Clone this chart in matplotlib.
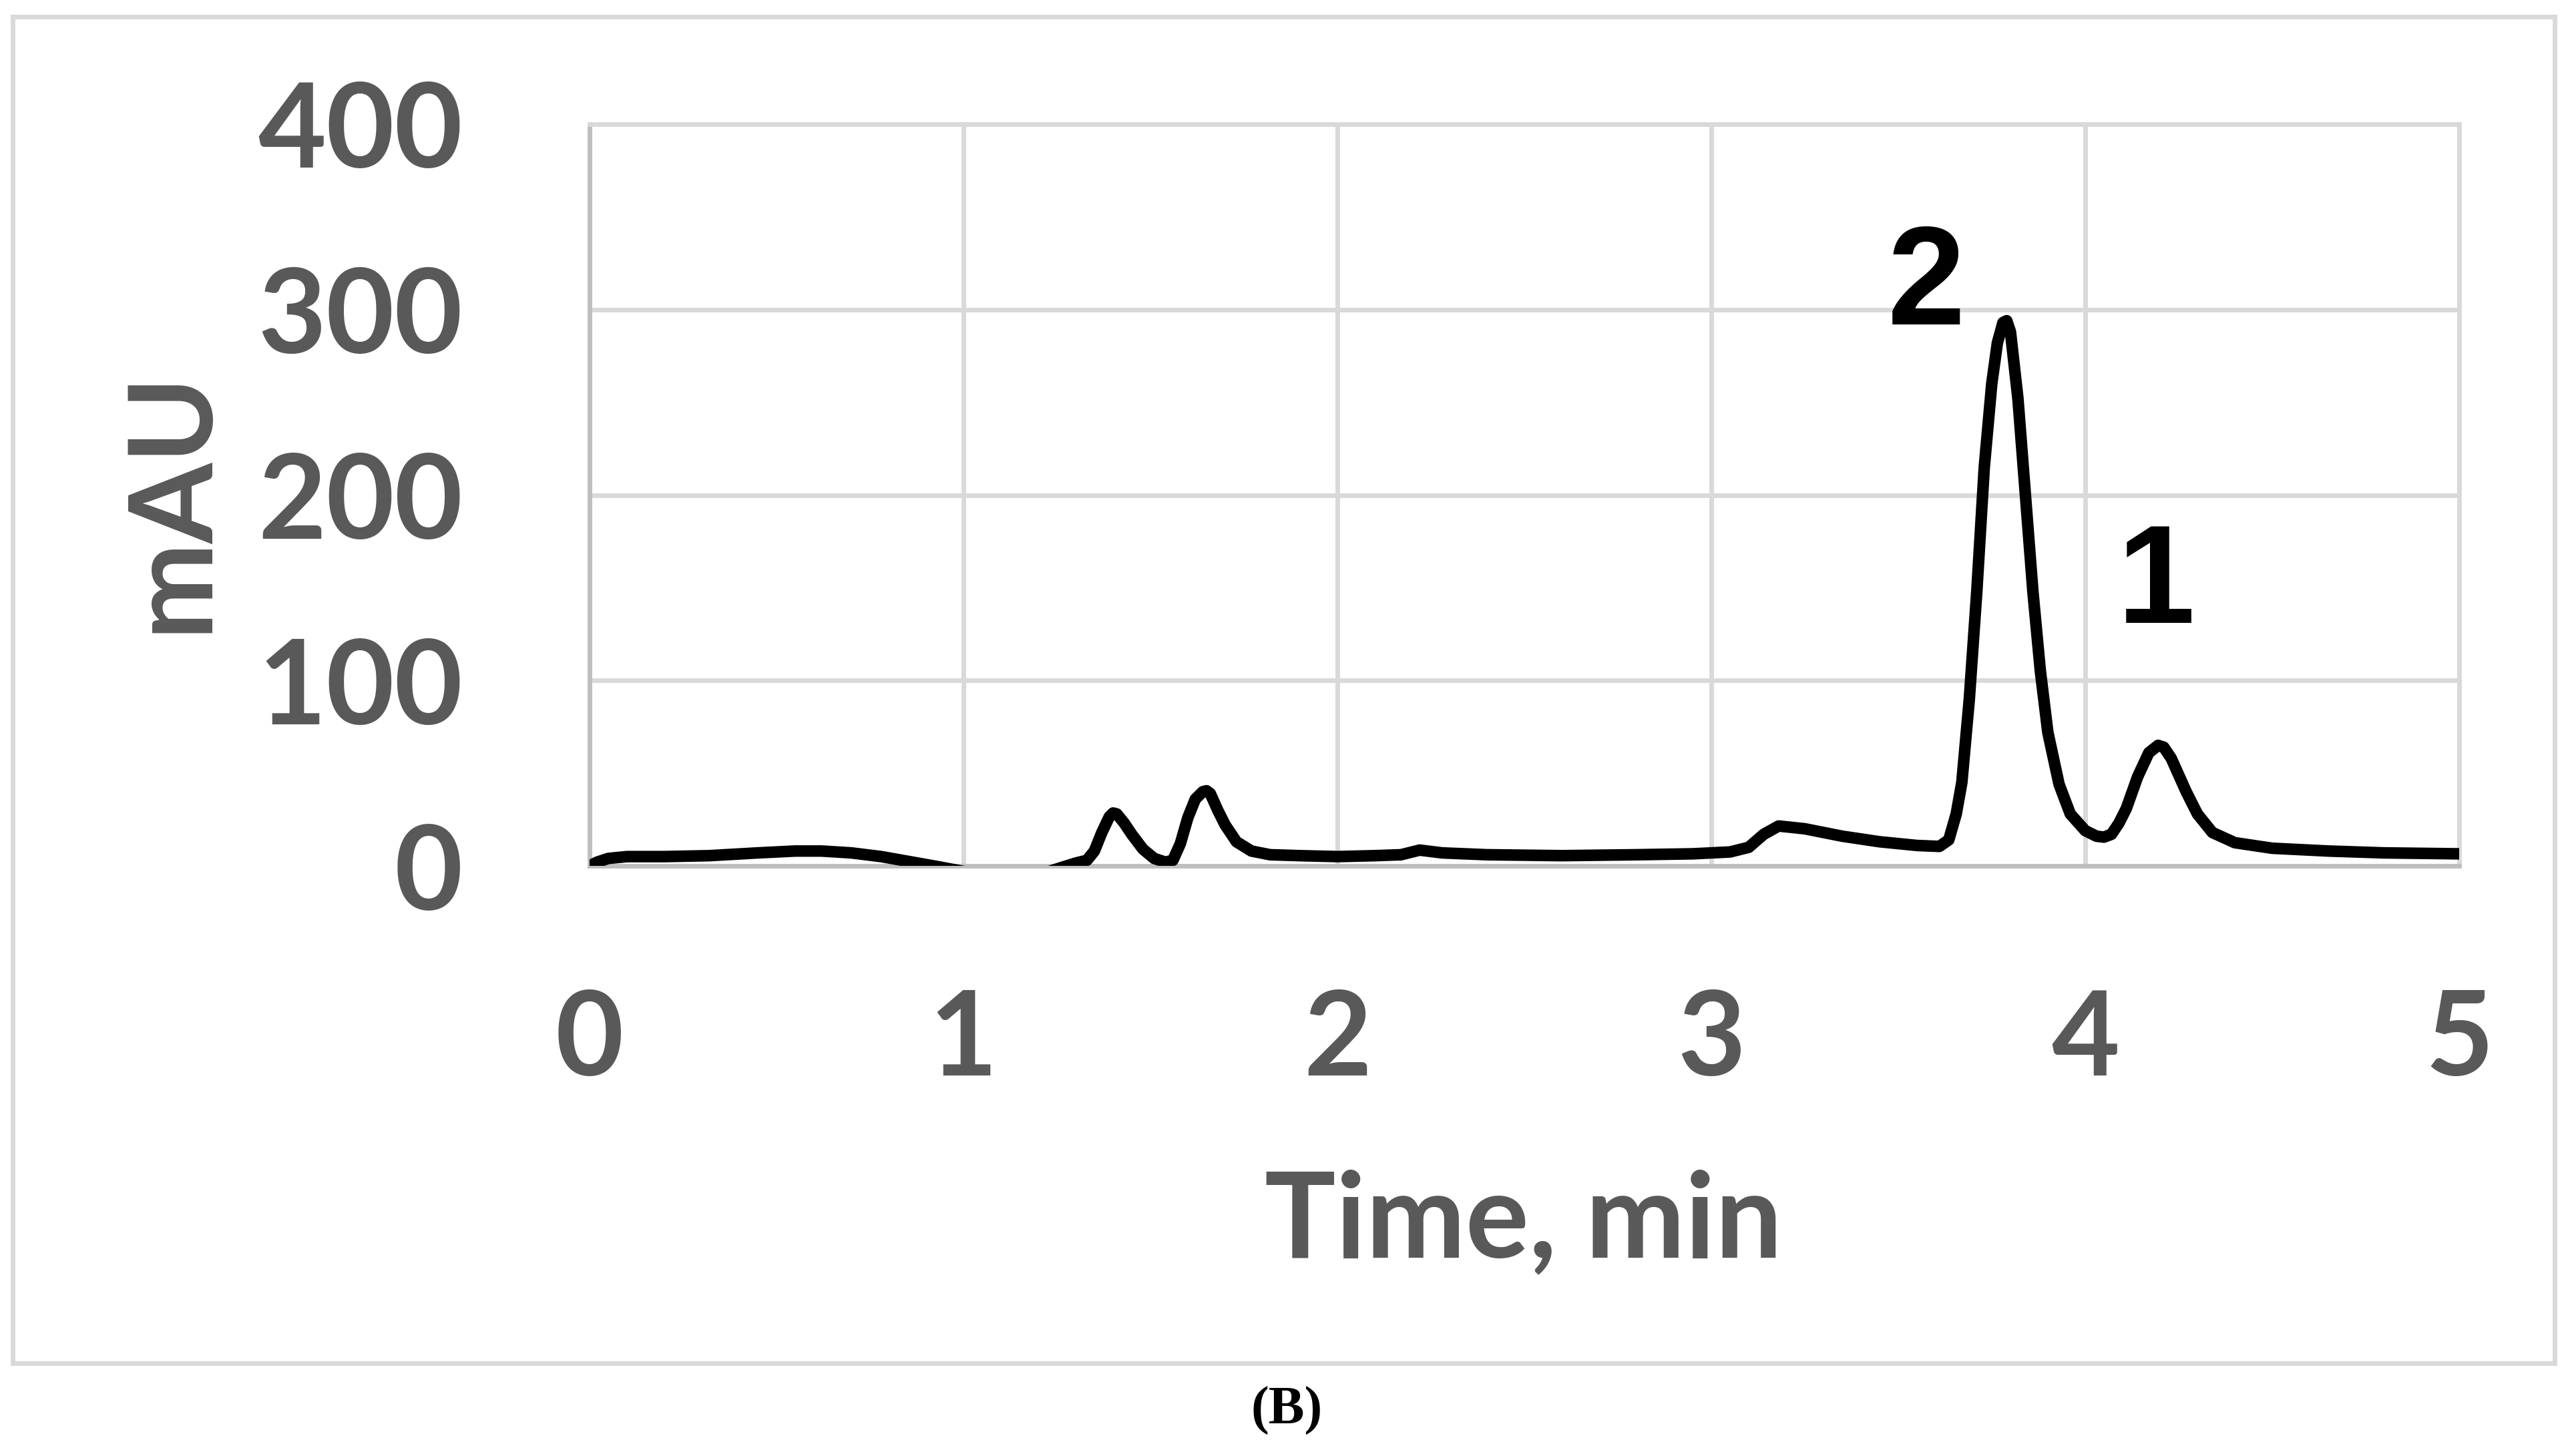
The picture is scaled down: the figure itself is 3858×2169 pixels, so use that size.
import matplotlib
matplotlib.use("Agg")
import matplotlib.pyplot as plt
from matplotlib.patches import Rectangle

# chromatogram trace (time in min, signal in mAU)
time_min = [
    0.00, 0.02, 0.05, 0.10, 0.20, 0.32, 0.45, 0.55, 0.62, 0.70, 0.78, 0.85,
    0.92, 1.00, 1.10, 1.20, 1.26, 1.30, 1.33, 1.35, 1.37, 1.39, 1.40, 1.41,
    1.43, 1.45, 1.48, 1.51, 1.54, 1.56, 1.58, 1.60, 1.62, 1.64, 1.65, 1.66,
    1.68, 1.70, 1.73, 1.77, 1.82, 1.90, 2.00, 2.10, 2.17, 2.22, 2.28, 2.40,
    2.60, 2.80, 2.95, 3.05, 3.10, 3.14, 3.18, 3.25, 3.35, 3.45, 3.55, 3.61,
    3.635, 3.655, 3.67, 3.69, 3.71, 3.73, 3.75, 3.765, 3.78, 3.79, 3.80,
    3.82, 3.84, 3.86, 3.88, 3.90, 3.93, 3.96, 4.00, 4.03, 4.05, 4.07, 4.09,
    4.11, 4.14, 4.17, 4.195, 4.21, 4.23, 4.25, 4.27, 4.30, 4.34, 4.40, 4.50,
    4.65, 4.80, 5.00,
]
signal_mau = [
    0, 2, 4, 5, 5, 5.5, 7, 8, 8, 7, 5, 2.5,
    0, -3, -6, -5, -1, 1.5, 3, 8, 18, 26.5, 28.5, 28,
    23, 17, 9, 4, 2, 3, 12, 26, 36, 40, 40.5, 39,
    30, 22, 13, 8, 6, 5.5, 5, 5.5, 6, 8.5, 7, 6,
    5.5, 6, 6.5, 7.5, 10, 17, 21.5, 20, 16, 13, 11, 10.5,
    14, 28, 45, 90, 148, 215, 260, 282, 293, 294, 288,
    252, 200, 148, 105, 72, 44, 28, 19, 16, 15.5, 17, 23,
    31, 48, 61, 65, 64, 58, 49, 40, 28, 18, 12.5, 9.5,
    8, 7, 6.5,
]

x_ticks = [0, 1, 2, 3, 4, 5]
y_ticks = [0, 100, 200, 300, 400]

# peak labels: text, time, mAU at the baseline of the digit
peak_labels = ["2", "1"]
peak_x = [3.575, 4.19]
peak_y = [292, 131]

W, H, DPI = 3858, 2169, 100
grey_txt = "#595959"
tick_font = "Lato"

fig = plt.figure(figsize=(W / DPI, H / DPI), dpi=DPI)

# light frame around the chart area
fig.patches.append(Rectangle((19 / W, 1 - 2042 / H), (3826 - 19) / W,
                             (2042 - 25) / H, transform=fig.transFigure,
                             fill=False, edgecolor="#d9d9d9", linewidth=5))

ax = fig.add_axes([883 / W, 1 - 1297 / H, 2800 / W, 1111 / H])
ax.plot(time_min, signal_mau, color="black", linewidth=12.5,
        solid_joinstyle="round", solid_capstyle="butt", zorder=3)

ax.set_xlim(0, 5)
ax.set_ylim(0, 400)
ax.set_xticks(x_ticks)
ax.set_yticks(y_ticks)
ax.grid(True, color="#d9d9d9", linewidth=5)
ax.set_axisbelow(True)

for side in ["top", "right"]:
    ax.spines[side].set_color("#d9d9d9")
    ax.spines[side].set_linewidth(5)
for side in ["left", "bottom"]:
    ax.spines[side].set_color("#bfbfbf")
    ax.spines[side].set_linewidth(5)

ax.tick_params(axis="both", length=0, labelsize=127, labelcolor=grey_txt)
ax.tick_params(axis="y", pad=137)
ax.tick_params(axis="x", pad=132)
for lab in ax.get_xticklabels() + ax.get_yticklabels():
    lab.set_fontfamily(tick_font)
    lab.set_fontweight("bold")

fig.text(2282 / W, 1 - 1883 / H, "Time, min", ha="center", va="baseline",
         fontsize=128, fontweight="bold", color=grey_txt, family=tick_font)
fig.text(258 / W, 1 - 750 / H, "mAU", ha="center", va="center",
         rotation=90, fontsize=125, fontweight="bold", color=grey_txt,
         family=tick_font)

for txt, px, py in zip(peak_labels, peak_x, peak_y):
    ax.text(px, py, txt, ha="center", va="baseline", fontsize=151,
            fontweight="bold", color="black", family="Liberation Sans",
            zorder=4)

fig.text(1927 / W, 1 - 2133 / H, "(B)", ha="center", va="baseline",
         fontsize=58, fontweight="bold", color="black",
         family="Liberation Serif")

fig.savefig("out.png", dpi=DPI)
